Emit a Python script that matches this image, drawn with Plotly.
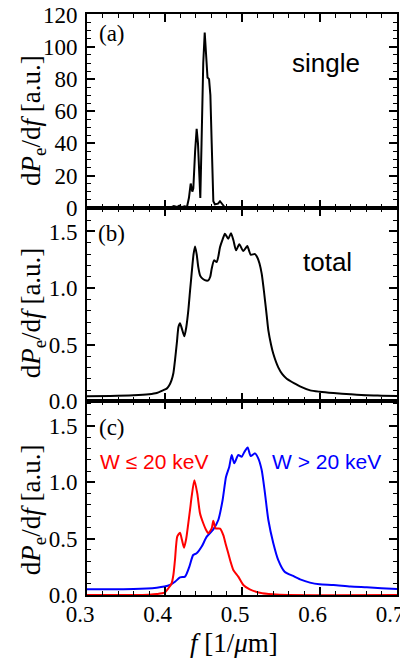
import plotly.graph_objects as go

# ---------------- data ----------------
# panel (a): single
f_single = [0.30, 0.40, 0.408, 0.412, 0.416, 0.419, 0.422, 0.426, 0.429, 0.4315, 0.4338, 0.4359,
            0.4372, 0.4395, 0.4415, 0.4432, 0.4450, 0.4462, 0.4478, 0.4500, 0.4519, 0.4535,
            0.4555, 0.4575, 0.4592, 0.4609, 0.4630, 0.4650, 0.4690, 0.4716, 0.4745, 0.4775,
            0.4800, 0.70]
p_single = [0, 0, 0.2, 1.0, 0.4, 1.2, 0.3, 0.8, 0.5, 6, 15, 10,
            12, 35, 49, 40, 12, 6, 40, 90, 109, 98,
            81, 80, 70, 40, 4, 2, 2.5, 4, 2, 0.4,
            0, 0]

# panel (b): total
f_total = [0.30, 0.33, 0.36, 0.38, 0.39, 0.398, 0.4028, 0.406, 0.409, 0.4115, 0.4135, 0.416,
           0.418, 0.420, 0.4225, 0.4256, 0.428, 0.4307, 0.433, 0.435, 0.4375, 0.4394, 0.4415,
           0.4436, 0.446, 0.448, 0.452, 0.4565, 0.4590, 0.4609, 0.4639, 0.4673, 0.4695, 0.4716,
           0.4750, 0.4780, 0.4823, 0.4858, 0.4890, 0.4923, 0.4965, 0.5017, 0.5068, 0.5112,
           0.5168, 0.5198, 0.5225, 0.5254, 0.5275, 0.5297, 0.532, 0.534, 0.5375, 0.5404,
           0.5468, 0.552, 0.5577, 0.5684, 0.5748, 0.588, 0.60, 0.618, 0.64, 0.661, 0.68, 0.70]
p_total = [0.045, 0.047, 0.053, 0.062, 0.073, 0.097, 0.112, 0.14, 0.185, 0.25, 0.36, 0.52,
           0.656, 0.69, 0.64, 0.574, 0.65, 0.80, 0.98, 1.127, 1.30, 1.368, 1.30,
           1.185, 1.11, 1.09, 1.07, 1.068, 1.10, 1.17, 1.245, 1.23, 1.28, 1.36,
           1.43, 1.48, 1.436, 1.485, 1.42, 1.333, 1.386, 1.327, 1.371, 1.295,
           1.30, 1.27, 1.22, 1.127, 1.02, 0.89, 0.75, 0.627, 0.50, 0.42,
           0.30, 0.24, 0.20, 0.156, 0.132, 0.097, 0.085, 0.073, 0.062, 0.053, 0.05, 0.047]

# panel (c): W <= 20 keV (red)
f_low = [0.30, 0.36, 0.38, 0.39, 0.40, 0.405, 0.409, 0.4115, 0.4135, 0.4165, 0.420, 0.4225,
         0.4252, 0.428, 0.4307, 0.433, 0.435, 0.4385, 0.4423, 0.4458, 0.450, 0.4535, 0.4565,
         0.4609, 0.463, 0.466, 0.4716, 0.476, 0.4790, 0.4823, 0.4855, 0.4888, 0.4952, 0.5017,
         0.510, 0.523, 0.54, 0.56, 0.70]
p_low = [0, 0, 0.003, 0.008, 0.02, 0.06, 0.10, 0.18, 0.31, 0.52, 0.553, 0.49,
         0.42, 0.50, 0.637, 0.76, 0.873, 1.02, 0.903, 0.726, 0.637, 0.58, 0.548,
         0.592, 0.66, 0.592, 0.59, 0.53, 0.45, 0.37, 0.29, 0.222, 0.163, 0.089,
         0.05, 0.02, 0.006, 0.0, 0.0]

# panel (c): W > 20 keV (blue)
f_high = [0.30, 0.36, 0.39, 0.40, 0.407, 0.414, 0.420, 0.4265, 0.432, 0.437, 0.4415, 0.448,
          0.4545, 0.463, 0.4694, 0.475, 0.4794, 0.4836, 0.4867, 0.490, 0.4952, 0.4996, 0.503,
          0.5073, 0.5112, 0.5168, 0.521, 0.5254, 0.5297, 0.534, 0.5404, 0.5468, 0.555, 0.566,
          0.575, 0.5877, 0.60, 0.618, 0.64, 0.661, 0.68, 0.70]
p_high = [0.05, 0.053, 0.065, 0.075, 0.089, 0.12, 0.157, 0.163, 0.25, 0.355, 0.37, 0.43,
          0.518, 0.583, 0.666, 0.844, 1.05, 1.14, 1.243, 1.17, 1.243, 1.228, 1.27,
          1.31, 1.234, 1.258, 1.214, 1.11, 0.90, 0.666, 0.46, 0.31, 0.207, 0.169,
          0.139, 0.11, 0.095, 0.089, 0.075, 0.068, 0.06, 0.053]

x_ticks = [0.3, 0.4, 0.5, 0.6, 0.7]
x_ticklabels = ["0.3", "0.4", "0.5", "0.6", "0.7"]
ya_ticks = [0, 20, 40, 60, 80, 100, 120]
ybc_ticks = [0.0, 0.5, 1.0, 1.5]
ybc_ticklabels = ["0.0", "0.5", "1.0", "1.5"]

# ---------------- figure ----------------
SERIF = "Liberation Serif"
SANS = "Liberation Sans"

fig = go.Figure()
fig.add_trace(go.Scatter(x=f_single, y=p_single, mode="lines",
                         line=dict(color="black", width=2), xaxis="x3", yaxis="y3",
                         showlegend=False))
fig.add_trace(go.Scatter(x=f_total, y=p_total, mode="lines",
                         line=dict(color="black", width=2, shape="spline", smoothing=0.6),
                         xaxis="x2", yaxis="y2", showlegend=False))
fig.add_trace(go.Scatter(x=f_high, y=p_high, mode="lines",
                         line=dict(color="#0000ff", width=2, shape="spline", smoothing=0.6),
                         xaxis="x", yaxis="y", showlegend=False))
fig.add_trace(go.Scatter(x=f_low, y=p_low, mode="lines",
                         line=dict(color="#ff0000", width=2, shape="spline", smoothing=0.6),
                         xaxis="x", yaxis="y", showlegend=False))

common = dict(showline=True, linecolor="black", linewidth=2, mirror="allticks",
              ticks="inside", ticklen=8, tickwidth=1.5, tickcolor="black",
              showgrid=False, zeroline=False, automargin=False,
              ticklabeloverflow="allow",
              tickfont=dict(family=SERIF, size=23, color="black"))


def xax(anchor, labels):
    d = dict(common)
    d.update(anchor=anchor, domain=[0, 1], range=[0.3, 0.7], tickvals=x_ticks,
             ticktext=x_ticklabels, showticklabels=labels, ticklabelshift=-7,
             ticklabelstandoff=-3,
             minor=dict(dtick=0.02, tick0=0.3, ticks="inside", ticklen=4, tickwidth=1,
                        tickcolor="black", showgrid=False))
    return d


def yax(anchor, dom, rng, tv, tt, mdt):
    d = dict(common)
    d.update(anchor=anchor, domain=dom, range=rng, tickvals=tv, ticktext=tt,
             ticklabelstandoff=3,
             minor=dict(dtick=mdt, tick0=0, ticks="inside", ticklen=4, tickwidth=1,
                        tickcolor="black", showgrid=False))
    return d


# page body adds an 8px offset; figure is sized so the plot area lands at x 87-397, y 14-595
fig.update_layout(
    template="none",
    width=400, height=651,
    margin=dict(l=79, r=11, t=6, b=64, autoexpand=False),
    font=dict(family=SERIF, color="black"),
    paper_bgcolor="white", plot_bgcolor="white",
    xaxis=xax("y", True),
    xaxis2=xax("y2", False),
    xaxis3=xax("y3", False),
    yaxis=yax("x", [0, 1/3], [0, 1.72], ybc_ticks, ybc_ticklabels, 0.1),
    yaxis2=yax("x2", [1/3, 2/3], [0, 1.71], ybc_ticks, ybc_ticklabels, 0.1),
    yaxis3=yax("x3", [2/3, 1], [0, 120.5], ya_ticks, [str(v) for v in ya_ticks], 5),
)

ytitle = "d<i>P</i><sub>e</sub>/d<i>f</i> [a.u.]"
ann = []
for yc in [0.816, 0.485, 0.146]:
    ann.append(dict(text=ytitle, xref="paper", yref="paper", x=-0.174, y=yc,
                    xanchor="center", yanchor="middle", textangle=-90, showarrow=False,
                    font=dict(family=SERIF, size=27, color="black")))
ann.append(dict(text="<i>f</i> [1/<i>μ</i>m]", xref="paper", yref="paper", x=0.474, y=-0.0826,
                xanchor="center", yanchor="middle", showarrow=False,
                font=dict(family=SERIF, size=27, color="black")))
for lab, yc in [("(a)", 0.967), ("(b)", 0.623), ("(c)", 0.289)]:
    ann.append(dict(text=lab, xref="paper", yref="paper", x=0.0806, y=yc,
                    xanchor="center", yanchor="middle", showarrow=False,
                    font=dict(family=SERIF, size=23, color="black")))
ann.append(dict(text="single", xref="paper", yref="paper", x=0.771, y=0.9157,
                xanchor="center", yanchor="middle", showarrow=False,
                font=dict(family=SANS, size=26, color="black")))
ann.append(dict(text="total", xref="paper", yref="paper", x=0.777, y=0.573,
                xanchor="center", yanchor="middle", showarrow=False,
                font=dict(family=SANS, size=26, color="black")))
ann.append(dict(text="W ≤ 20 keV", xref="paper", yref="paper", x=0.216, y=0.229,
                xanchor="center", yanchor="middle", showarrow=False,
                font=dict(family=SANS, size=21, color="#ff0000")))
ann.append(dict(text="W > 20 keV", xref="paper", yref="paper", x=0.771, y=0.229,
                xanchor="center", yanchor="middle", showarrow=False,
                font=dict(family=SANS, size=21, color="#0000ff")))
fig.update_layout(annotations=ann)

fig.write_html("out.html")
